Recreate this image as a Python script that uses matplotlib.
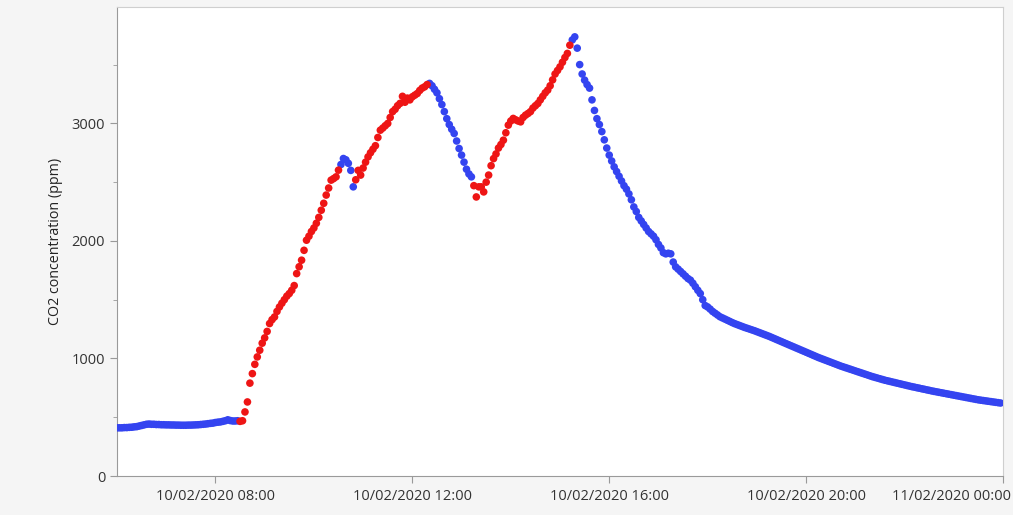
import matplotlib
matplotlib.use("Agg")
import matplotlib.pyplot as plt
import matplotlib.dates as mdates
import matplotlib.transforms as mtransforms
import numpy as np
import pandas as pd

# CO2 logger readings, one every 3 minutes, 20 readings per hour (06:00 .. 23:57)
start = "2020-02-10 06:00"
step_min = 3
co2_by_hour = {
    6: [410, 410, 410, 412, 412, 414, 415, 418, 420, 425, 430, 435, 440, 442, 440, 440, 438, 438, 436, 436],
    7: [435, 435, 434, 434, 433, 433, 432, 432, 432, 433, 433, 434, 435, 436, 438, 440, 442, 445, 448, 450],
    8: [455, 458, 460, 465, 470, 478, 472, 468, 468, 470, 465, 470, 545, 630, 790, 871, 950, 1013, 1070, 1130],
    9: [1175, 1230, 1297, 1330, 1353, 1400, 1438, 1470, 1500, 1530, 1552, 1580, 1620, 1722, 1780, 1836, 1920, 2006, 2040, 2080],
    10: [2110, 2150, 2200, 2261, 2320, 2390, 2450, 2517, 2530, 2545, 2602, 2650, 2701, 2690, 2660, 2600, 2460, 2520, 2600, 2560],
    11: [2620, 2670, 2715, 2750, 2780, 2810, 2880, 2942, 2960, 2980, 2999, 3050, 3100, 3120, 3150, 3170, 3230, 3180, 3215, 3200],
    12: [3226, 3240, 3254, 3280, 3300, 3311, 3330, 3340, 3320, 3290, 3260, 3210, 3160, 3100, 3040, 2990, 2950, 2914, 2850, 2786],
    13: [2730, 2670, 2610, 2570, 2545, 2470, 2374, 2460, 2460, 2417, 2500, 2560, 2640, 2700, 2740, 2790, 2820, 2857, 2920, 2985],
    14: [3020, 3042, 3030, 3020, 3013, 3050, 3070, 3084, 3100, 3130, 3150, 3169, 3200, 3230, 3260, 3283, 3320, 3370, 3420, 3450],
    15: [3481, 3520, 3560, 3595, 3665, 3710, 3736, 3640, 3500, 3420, 3368, 3330, 3300, 3200, 3110, 3040, 2990, 2930, 2860, 2790],
    16: [2730, 2680, 2630, 2590, 2550, 2510, 2470, 2440, 2400, 2350, 2289, 2250, 2200, 2170, 2140, 2110, 2080, 2060, 2040, 2010],
    17: [1970, 1940, 1900, 1890, 1895, 1890, 1820, 1779, 1760, 1740, 1720, 1700, 1680, 1666, 1640, 1610, 1580, 1552, 1500, 1450],
    18: [1438, 1420, 1400, 1385, 1370, 1355, 1345, 1335, 1325, 1315, 1305, 1296, 1288, 1280, 1272, 1264, 1257, 1250, 1243, 1236],
    19: [1228, 1220, 1212, 1204, 1196, 1188, 1179, 1170, 1161, 1152, 1143, 1134, 1125, 1116, 1107, 1098, 1089, 1080, 1071, 1062],
    20: [1053, 1044, 1035, 1026, 1017, 1008, 1000, 992, 984, 976, 968, 960, 952, 944, 936, 929, 922, 915, 908, 901],
    21: [894, 887, 880, 873, 866, 859, 852, 845, 839, 833, 827, 821, 815, 810, 805, 800, 795, 790, 785, 780],
    22: [775, 770, 765, 760, 756, 751, 747, 742, 738, 733, 729, 724, 720, 716, 712, 708, 704, 700, 696, 692],
    23: [688, 684, 680, 676, 672, 668, 664, 660, 656, 652, 648, 645, 642, 639, 636, 633, 630, 627, 624, 621],
}

# periods when the room was occupied (drawn red)
occupied = [("08:29", "10:32"), ("10:50", "12:18"), ("13:14", "15:14")]

BLUE = "#3444f0"
RED = "#ee1515"

co2 = np.concatenate([co2_by_hour[h] for h in sorted(co2_by_hour)])
times = pd.date_range(start, periods=len(co2), freq=f"{step_min}min")

is_occ = np.zeros(len(times), dtype=bool)
for a, b in occupied:
    t0 = pd.Timestamp(f"2020-02-10 {a}")
    t1 = pd.Timestamp(f"2020-02-10 {b}")
    is_occ |= (times >= t0) & (times <= t1)

plt.rcParams["font.family"] = ["Open Sans", "DejaVu Sans"]

fig = plt.figure(figsize=(10.13, 5.15), dpi=100, facecolor="#f5f5f5")
ax = fig.add_axes([117 / 1013, 1 - 476 / 515, (1003 - 117) / 1013, (476 - 7) / 515])
ax.set_facecolor("white")

ax.scatter(times[~is_occ], co2[~is_occ], s=30, color=BLUE, edgecolors="none", zorder=3)
ax.scatter(times[is_occ], co2[is_occ], s=30, color=RED, edgecolors="none", zorder=3)

ax.set_xlim(pd.Timestamp("2020-02-10 06:00"), pd.Timestamp("2020-02-11 00:00"))
ax.set_ylim(0, 3990)

ax.xaxis.set_major_locator(mdates.HourLocator(byhour=[0, 8, 12, 16, 20]))
ax.xaxis.set_major_formatter(mdates.DateFormatter("%d/%m/%Y %H:%M"))
ax.set_yticks([0, 1000, 2000, 3000])
ax.set_yticks([500, 1500, 2500, 3500], minor=True)

ax.tick_params(axis="both", which="major", length=5, color="#999999", labelsize=10.5, labelcolor="#333333")
ax.tick_params(axis="y", which="minor", length=3, color="#999999")
ax.tick_params(axis="x", pad=4)

for side in ["left", "bottom"]:
    ax.spines[side].set_color("#9a9a9a")
for side in ["top", "right"]:
    ax.spines[side].set_color("#cfcfcf")

ax.set_ylabel("CO2 concentration (ppm)", fontsize=10.3, color="#222222", labelpad=6)

# last date label sits against the right edge instead of centred on its tick
fig.canvas.draw()
last = ax.get_xticklabels()[-1]
last.set_horizontalalignment("right")
last.set_transform(last.get_transform() + mtransforms.ScaledTranslation(8 / 100, 0, fig.dpi_scale_trans))

fig.savefig("out.png", dpi=100, facecolor=fig.get_facecolor())
